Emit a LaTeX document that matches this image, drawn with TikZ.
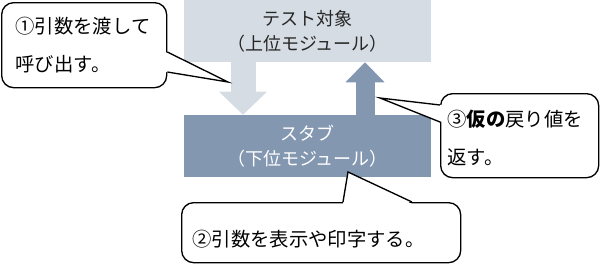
\documentclass[tikz,border=0pt]{standalone}
\usepackage{fontspec}
\setmainfont{Noto Sans CJK JP}
\usetikzlibrary{arrows.meta, positioning, calc}
\definecolor{upperfill}{HTML}{D6DCE4}
\definecolor{lowerfill}{HTML}{8497B0}
\definecolor{uppertext}{HTML}{262626}

\begin{document}
\begin{tikzpicture}[x=0.75pt, y=-0.75pt,
        module/.style={minimum width=185.25pt, minimum height=46.5pt, inner sep=0pt, align=center, font=\fontsize{13.5}{18.75}\selectfont},
        bubble/.style={draw=black, line width=1pt, fill=white, rounded corners=9pt, anchor=north west, align=left, inner ysep=0pt, font=\fontsize{14.5}{28.5}\selectfont},
        tailline/.style={draw=black, line width=1pt, line join=miter}
    ]
        \useasboundingbox (0,0) rectangle (600,264);

        % Modules
        \node[module, fill=upperfill, text=uppertext] (target) at (307.5,31) {テスト対象\\（上位モジュール）};
        \node[module, fill=lowerfill, text=white] (stub) at (307.5,146) {スタブ\\（下位モジュール）};

        % Call and return
        \draw[upperfill, line width=18.75pt, -{Triangle[width=36pt, length=17.25pt, line width=0pt]}] ($(target.south)+(-64.5,0)$) -- ($(stub.north)+(-64.5,0)$);
        \draw[lowerfill, line width=14.25pt, -{Triangle[width=29.25pt, length=15pt, line width=0pt]}] ($(stub.north)+(57.5,0)$) -- ($(target.south)+(57.5,0)$);

        % Callouts
        \node[bubble, minimum width=123.75pt, minimum height=63.75pt, inner xsep=10.5pt, text width=102.75pt] (call1) at (1,2) {①引数を渡して\\呼び出す。};
        \node[bubble, minimum width=118.5pt, minimum height=63pt, inner xsep=5pt, text width=108.5pt, text height=16pt] (call3) at (440,93) {③{\bfseries 仮の}戻り値を\\返す。};
        \node[bubble, minimum width=209.25pt, minimum height=45pt, inner xsep=8pt, text width=193.25pt, text height=21.5pt] (call2) at (181,202) {②引数を表示や印字する。};

        % Tails
        \coordinate (tip1) at (228,82);
        \coordinate (tip2) at (348,172);
        \coordinate (tip3) at (380,98);
        \fill[white] ($(call1.north east)+(-2,50)$) -- (tip1) -- ($(call1.north east)+(-2,70)$) -- cycle;
        \draw[tailline] ($(call1.north east)+(0,50)$) -- (tip1) -- ($(call1.north east)+(0,70)$);
        \fill[white] ($(call3.north west)+(2,12)$) -- (tip3) -- ($(call3.north west)+(2,29)$) -- cycle;
        \draw[tailline] ($(call3.north west)+(0,12)$) -- (tip3) -- ($(call3.north west)+(0,29)$);
        \fill[white] ($(call2.north west)+(162,2)$) -- (tip2) -- ($(call2.north west)+(231,2)$) -- cycle;
        \draw[tailline] ($(call2.north west)+(162,0)$) -- (tip2) -- ($(call2.north west)+(231,0)$);
    \end{tikzpicture}
\end{document}
